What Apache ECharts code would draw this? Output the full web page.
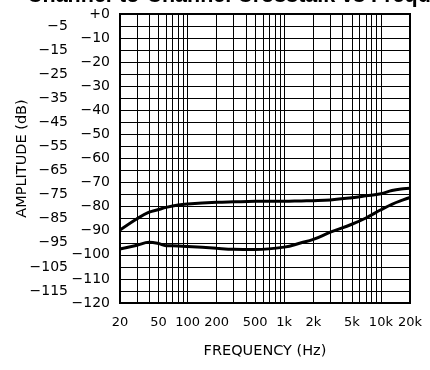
<!DOCTYPE html>
<html>
<head>
<meta charset="utf-8">
<script src="https://cdn.jsdelivr.net/npm/echarts@6/dist/echarts.min.js"></script>
<style>
  html, body { margin: 0; padding: 0; background: #fff; }
  #chart { width: 430px; height: 370px; }
</style>
</head>
<body>
<div id="chart"></div>
<script>
// frequency points (Hz)
var freqs = [20, 30, 40, 50, 60, 80, 100, 200, 300, 500, 1000, 1500, 2000, 3000, 5000, 7000, 10000, 13000, 17000, 20000];
// upper trace (dB)
var upperDb = [-89.7, -85.0, -82.3, -81.2, -80.3, -79.3, -78.9, -78.2, -78.0, -77.8, -77.8, -77.6, -77.5, -77.2, -76.3, -75.5, -74.6, -73.3, -72.6, -72.4];
// lower trace (dB)
var lowerDb = [-97.6, -96.0, -94.8, -95.3, -96.2, -96.3, -96.5, -97.3, -97.7, -97.8, -96.8, -95.0, -93.6, -90.6, -87.3, -84.7, -81.3, -79.0, -77.2, -76.2];

// x tick labels and the log grid lines
var xLabelValues = [20, 50, 100, 200, 500, 1000, 2000, 5000, 10000, 20000];
var xGridValues = [20, 30, 40, 50, 60, 70, 80, 90, 100, 200, 300, 400, 500, 600, 700, 800, 900,
  1000, 2000, 3000, 4000, 5000, 6000, 7000, 8000, 9000, 10000, 20000];

var FONT = 'DejaVu Sans';

function pairs(xs, ys) {
  var out = [];
  for (var i = 0; i < xs.length; i++) {
    out.push([xs[i], ys[i]]);
  }
  return out;
}

function fmtFreq(v) {
  if (v >= 1000) return (v / 1000) + 'k';
  return String(v);
}

function fmtDb(v) {
  if (v === 0) return '+0';
  return '\u2212' + Math.abs(v);
}

var chart = echarts.init(document.getElementById('chart'), null, { renderer: 'canvas' });

var option = {
  backgroundColor: '#fff',
  animation: false,
  // title is mostly cut off by the top edge, as in the source image
  title: {
    text: 'Channel-to-Channel Crosstalk vs Frequency',
    left: 22,
    top: -20,
    textStyle: { fontFamily: 'Liberation Sans', fontWeight: 'bold', fontSize: 21.5, color: '#000' }
  },
  grid: {
    left: 120, right: 20, top: 14, bottom: 67,
    show: true, borderColor: '#000', borderWidth: 2, backgroundColor: 'transparent'
  },
  xAxis: {
    type: 'log',
    logBase: 10,
    min: 20,
    max: 20000,
    name: 'FREQUENCY (Hz)',
    nameLocation: 'middle',
    nameGap: 41,
    nameTextStyle: { fontFamily: FONT, fontSize: 14.5, color: '#000' },
    axisLine: { show: false },
    axisTick: { show: false, customValues: xGridValues },
    axisLabel: {
      customValues: xLabelValues,
      formatter: fmtFreq,
      margin: 13,
      fontFamily: FONT, fontSize: 13, color: '#000'
    },
    splitLine: { show: true, lineStyle: { color: '#000', width: 1 } },
    minorTick: { show: false },
    minorSplitLine: { show: false }
  },
  yAxis: [{
    type: 'value',
    min: -120,
    max: 0,
    interval: 5,
    position: 'left',
    name: 'AMPLITUDE (dB)',
    nameLocation: 'middle',
    nameGap: 90,
    nameRotate: 90,
    nameTextStyle: { fontFamily: FONT, fontSize: 14.5, color: '#000' },
    axisLine: { show: false },
    axisTick: { show: false },
    axisLabel: {
      margin: 10,
      fontFamily: FONT, fontSize: 14, color: '#000',
      formatter: function (v) { return v % 10 === 0 ? fmtDb(v) : ''; }
    },
    splitLine: { show: true, lineStyle: { color: '#000', width: 1 } }
  }, {
    // offset column of -5, -15, ... labels
    type: 'value',
    min: -120,
    max: 0,
    interval: 5,
    position: 'left',
    axisLine: { show: false },
    axisTick: { show: false },
    axisLabel: {
      margin: 52,
      fontFamily: FONT, fontSize: 14, color: '#000',
      formatter: function (v) { return v % 10 !== 0 ? fmtDb(v) : ''; }
    },
    splitLine: { show: false }
  }],
  series: [{
    name: 'upper',
    type: 'line',
    smooth: 0.4,
    symbol: 'none',
    lineStyle: { color: '#000', width: 3 },
    data: pairs(freqs, upperDb)
  }, {
    name: 'lower',
    type: 'line',
    smooth: 0.4,
    symbol: 'none',
    lineStyle: { color: '#000', width: 3 },
    data: pairs(freqs, lowerDb)
  }]
};

chart.setOption(option);
</script>
</body>
</html>
